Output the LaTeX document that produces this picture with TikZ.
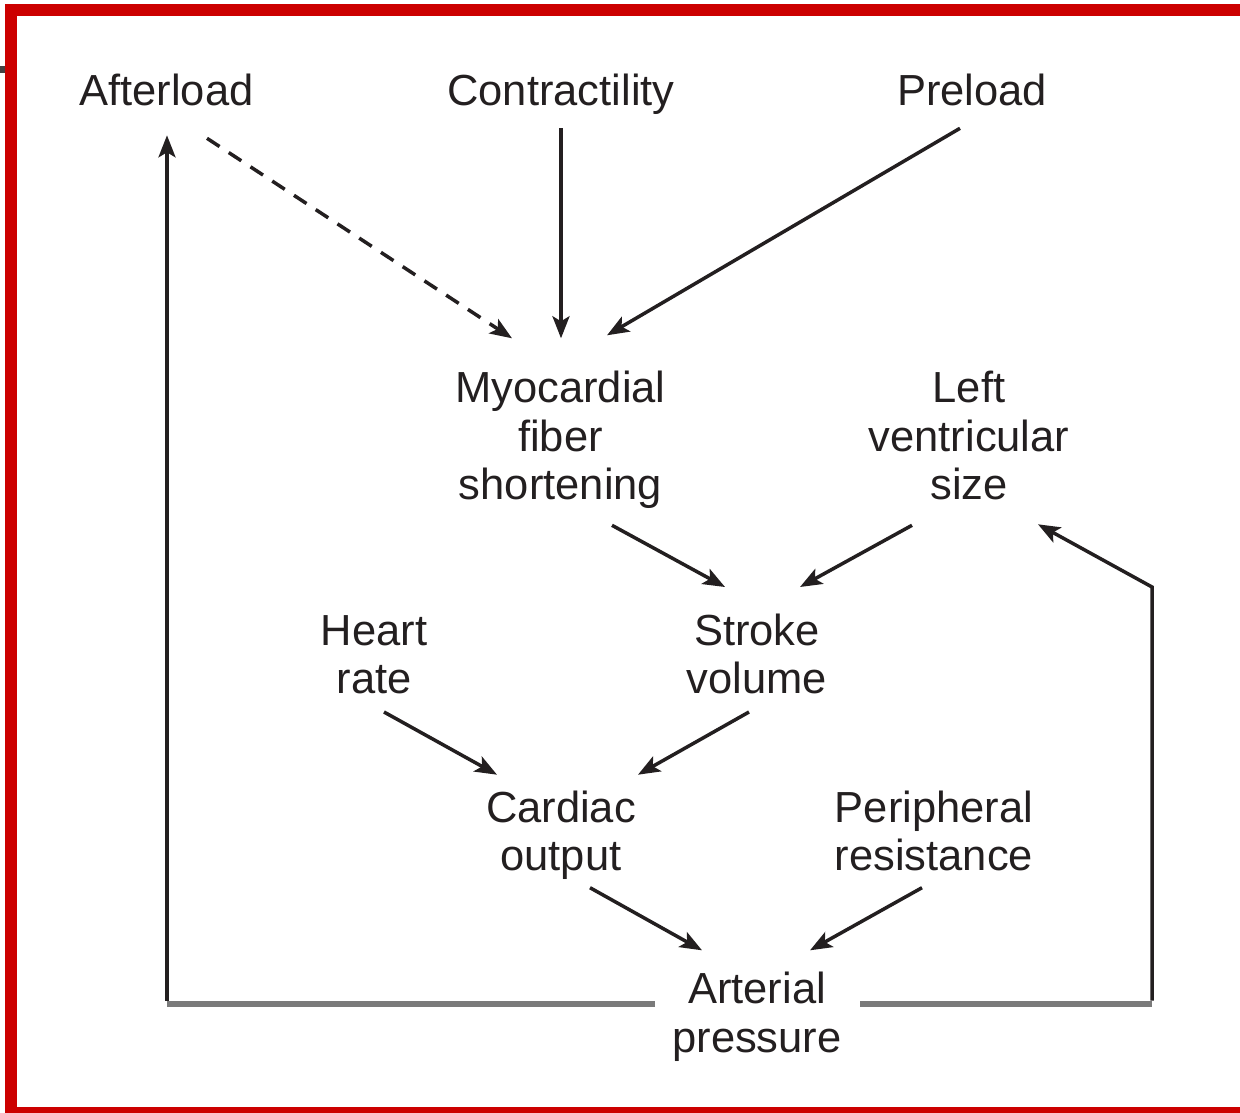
\documentclass[tikz,border=0pt]{standalone}
\usepackage{fontspec}
\setmainfont{Liberation Sans}
\usetikzlibrary{arrows.meta,calc}
\definecolor{ink}{RGB}{35,31,32}
\definecolor{framered}{RGB}{204,0,0}
\definecolor{hline}{RGB}{122,122,122}
\begin{document}
\begin{tikzpicture}[x=1pt,y=-1pt,
  lbl/.style={align=center, inner sep=0pt, text=ink, font=\fontsize{43.5}{48.5}\selectfont},
  arr/.style={draw=ink, line width=3.5pt, -{Stealth[length=22pt,width=17pt,inset=5pt]}},
  dasharr/.style={arr, dash pattern=on 15pt off 11pt},
  feed/.style={draw=hline, line width=6pt}]
\useasboundingbox (0,0) rectangle (1240,1113);
% frame
\fill[framered] (5,4) rectangle (17,1113);
\fill[framered] (5,4) rectangle (1240,16);
\fill[framered] (5,1107) rectangle (1240,1113);
\fill[ink!85] (0,66) rectangle (5,73);
% nodes
\node[lbl] (aft) at (166.5,96.3) {\strut Afterload};
\node[lbl] (con) at (561,96.3) {\strut Contractility};
\node[lbl] (pre) at (972,96.3) {\strut Preload};
\node[lbl] (myo) at (560.5,441.3) {\strut Myocardial\\\strut fiber\\\strut shortening};
\node[lbl] (lvs) at (969,441.3) {\strut Left\\\strut ventricular\\\strut size};
\node[lbl] (hr) at (374,660) {\strut Heart\\\strut rate};
\node[lbl] (sv) at (757,660) {\strut Stroke\\\strut volume};
\node[lbl] (co) at (561,836.7) {\strut Cardiac\\\strut output};
\node[lbl] (pr) at (934,836.7) {\strut Peripheral\\\strut resistance};
\node[lbl] (ap) at (757,1018.3) {\strut Arterial\\\strut pressure};
% connectors
\draw[dasharr] ($(aft)+(40.5,42)$) -- ($(myo)+(-48.5,-103)$);
\draw[arr] ($(con)+(0,32)$) -- ($(myo)+(0.5,-103)$);
\draw[arr] ($(pre)+(-12,32)$) -- ($(myo)+(46.5,-106)$);
\draw[arr] ($(myo)+(51.5,84)$) -- ($(sv)+(-32,-73)$);
\draw[arr] ($(lvs)+(-57,84)$) -- ($(sv)+(43,-73)$);
\draw[arr] ($(hr)+(10,52)$) -- ($(co)+(-64,-62)$);
\draw[arr] ($(sv)+(-8,52)$) -- ($(co)+(77,-62)$);
\draw[arr] ($(co)+(29,51)$) -- ($(ap)+(-55,-68)$);
\draw[arr] ($(pr)+(-12,51)$) -- ($(ap)+(53,-68)$);
% feedback loops
\coordinate (cl) at (167,1003.5);
\coordinate (cr) at (1152,1003.5);
\coordinate (cr2) at (1152,587);
\draw[feed] ($(ap)+(-102,-14.8)$) -- (cl);
\draw[arr] ([yshift=3pt]cl) -- ($(aft)+(0.5,39)$);
\draw[feed] ($(ap)+(103,-14.8)$) -- (cr);
\draw[arr] ([yshift=3pt]cr) -- (cr2) -- ($(lvs)+(69,83)$);
\end{tikzpicture}
\end{document}
